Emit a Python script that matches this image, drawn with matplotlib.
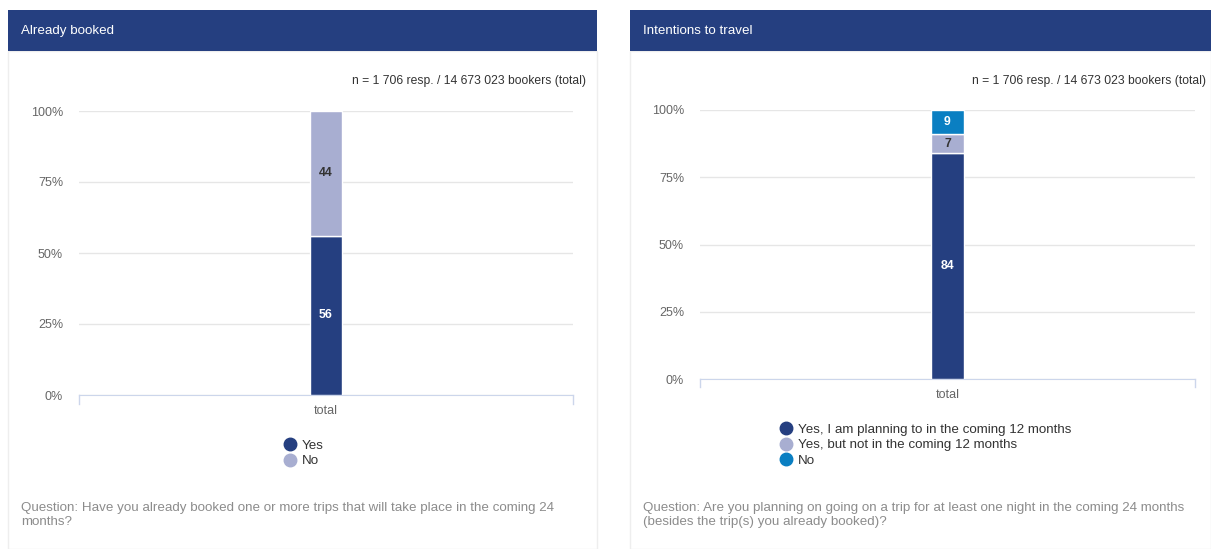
import matplotlib
matplotlib.use("Agg")
from matplotlib import pyplot as plt
from matplotlib.lines import Line2D
import matplotlib.patches as patches

plt.rcParams['font.family'] = ['Liberation Sans', 'DejaVu Sans']

# data
categories = ["total"]
booked_labels = ["Yes", "No"]
booked_values = [56, 44]
intent_labels = ["Yes, I am planning to in the coming 12 months",
                 "Yes, but not in the coming 12 months",
                 "No"]
intent_values = [84, 7, 9]
yticks = [0, 25, 50, 75, 100]
sample_note = "n = 1 706 resp. / 14 673 023 bookers (total)"

NAVY = "#253f80"
LAVENDER = "#a8aed1"
BLUE = "#0a7fc2"
GRID = "#e6e6e6"
AXIS = "#ccd6eb"
TICKTXT = "#666666"

W, H = 1211, 549
fig = plt.figure(figsize=(W / 100, H / 100), dpi=100)

def fx(px):
    return px / W

def fy(py):
    return 1 - py / H

def panel(x0, x1, title, question):
    # panel frame, kept behind the axes
    fig.patches.append(patches.Rectangle((fx(x0), 0), fx(x1 - x0), fy(51),
                                         transform=fig.transFigure, facecolor="white",
                                         edgecolor="#eeeeee", lw=1, zorder=-5))
    # header bar
    fig.patches.append(patches.Rectangle((fx(x0), fy(51)), fx(x1 - x0), (51 - 10) / H,
                                         transform=fig.transFigure, facecolor=NAVY,
                                         edgecolor="none", zorder=-5))
    fig.text(fx(x0 + 13), fy(31), title, color="white", fontsize=9.6,
             va="center", ha="left")
    fig.text(fx(x0 + 13), fy(502), question, color="#8c8c8c", fontsize=9.6,
             va="top", ha="left", linespacing=1.2)

def stacked(ax, labels, values, colors, txtcolors):
    bottom = 0
    for lab, v, c, tc in zip(labels, values, colors, txtcolors):
        ax.bar(categories, [v], bottom=bottom, width=0.065, color=c,
               edgecolor="white", linewidth=1, zorder=3)
        ax.text(0, bottom + v / 2, str(v), ha="center", va="center",
                color=tc, fontsize=8.8, fontweight="bold", zorder=4)
        bottom += v
    ax.set_xlim(-0.5, 0.5)
    ax.set_ylim(0, 100)
    ax.set_yticks(yticks)
    ax.set_yticklabels([f"{t}%" for t in yticks])
    ax.grid(axis="y", color=GRID, lw=1, zorder=0)
    ax.patch.set_alpha(0)
    for s in ["top", "right", "left"]:
        ax.spines[s].set_visible(False)
    ax.spines["bottom"].set_color(AXIS)
    ax.tick_params(axis="y", length=0, labelsize=9, labelcolor=TICKTXT, pad=11.5)
    ax.tick_params(axis="x", length=0, labelsize=9, labelcolor=TICKTXT, pad=7)
    # small end ticks of the category axis
    for xe in [-0.5, 0.5]:
        ax.plot([xe, xe], [0, -3], color=AXIS, lw=1, clip_on=False)

# left panel
panel(8, 597, "Already booked",
      "Question: Have you already booked one or more trips that will take place in the coming 24\nmonths?")
ax1 = fig.add_axes([fx(79), fy(395), fx(573 - 79), (395 - 111) / H])
stacked(ax1, booked_labels, booked_values, [NAVY, LAVENDER], ["white", "#333333"])
fig.text(fx(586), fy(81), sample_note, ha="right", va="center", fontsize=8.7, color="#333333")
h1 = [Line2D([], [], marker="o", ls="none", color=c, markersize=9)
      for c in [NAVY, LAVENDER]]
fig.legend(h1, booked_labels, loc="upper left", bbox_to_anchor=(fx(277), fy(433)),
           frameon=False, fontsize=9.6, handlelength=1, handletextpad=0.35,
           labelspacing=0.22, borderpad=0, labelcolor="#333333")

# right panel
panel(630, 1211, "Intentions to travel",
      "Question: Are you planning on going on a trip for at least one night in the coming 24 months\n(besides the trip(s) you already booked)?")
ax2 = fig.add_axes([fx(700), fy(379), fx(1195 - 700), (379 - 110) / H])
stacked(ax2, intent_labels, intent_values, [NAVY, LAVENDER, BLUE],
        ["white", "#333333", "white"])
fig.text(fx(1206), fy(81), sample_note, ha="right", va="center", fontsize=8.7, color="#333333")
h2 = [Line2D([], [], marker="o", ls="none", color=c, markersize=9)
      for c in [NAVY, LAVENDER, BLUE]]
fig.legend(h2, intent_labels, loc="upper left", bbox_to_anchor=(fx(773), fy(417)),
           frameon=False, fontsize=9.6, handlelength=1, handletextpad=0.35,
           labelspacing=0.22, borderpad=0, labelcolor="#333333")

fig.savefig("out.png", dpi=100)
